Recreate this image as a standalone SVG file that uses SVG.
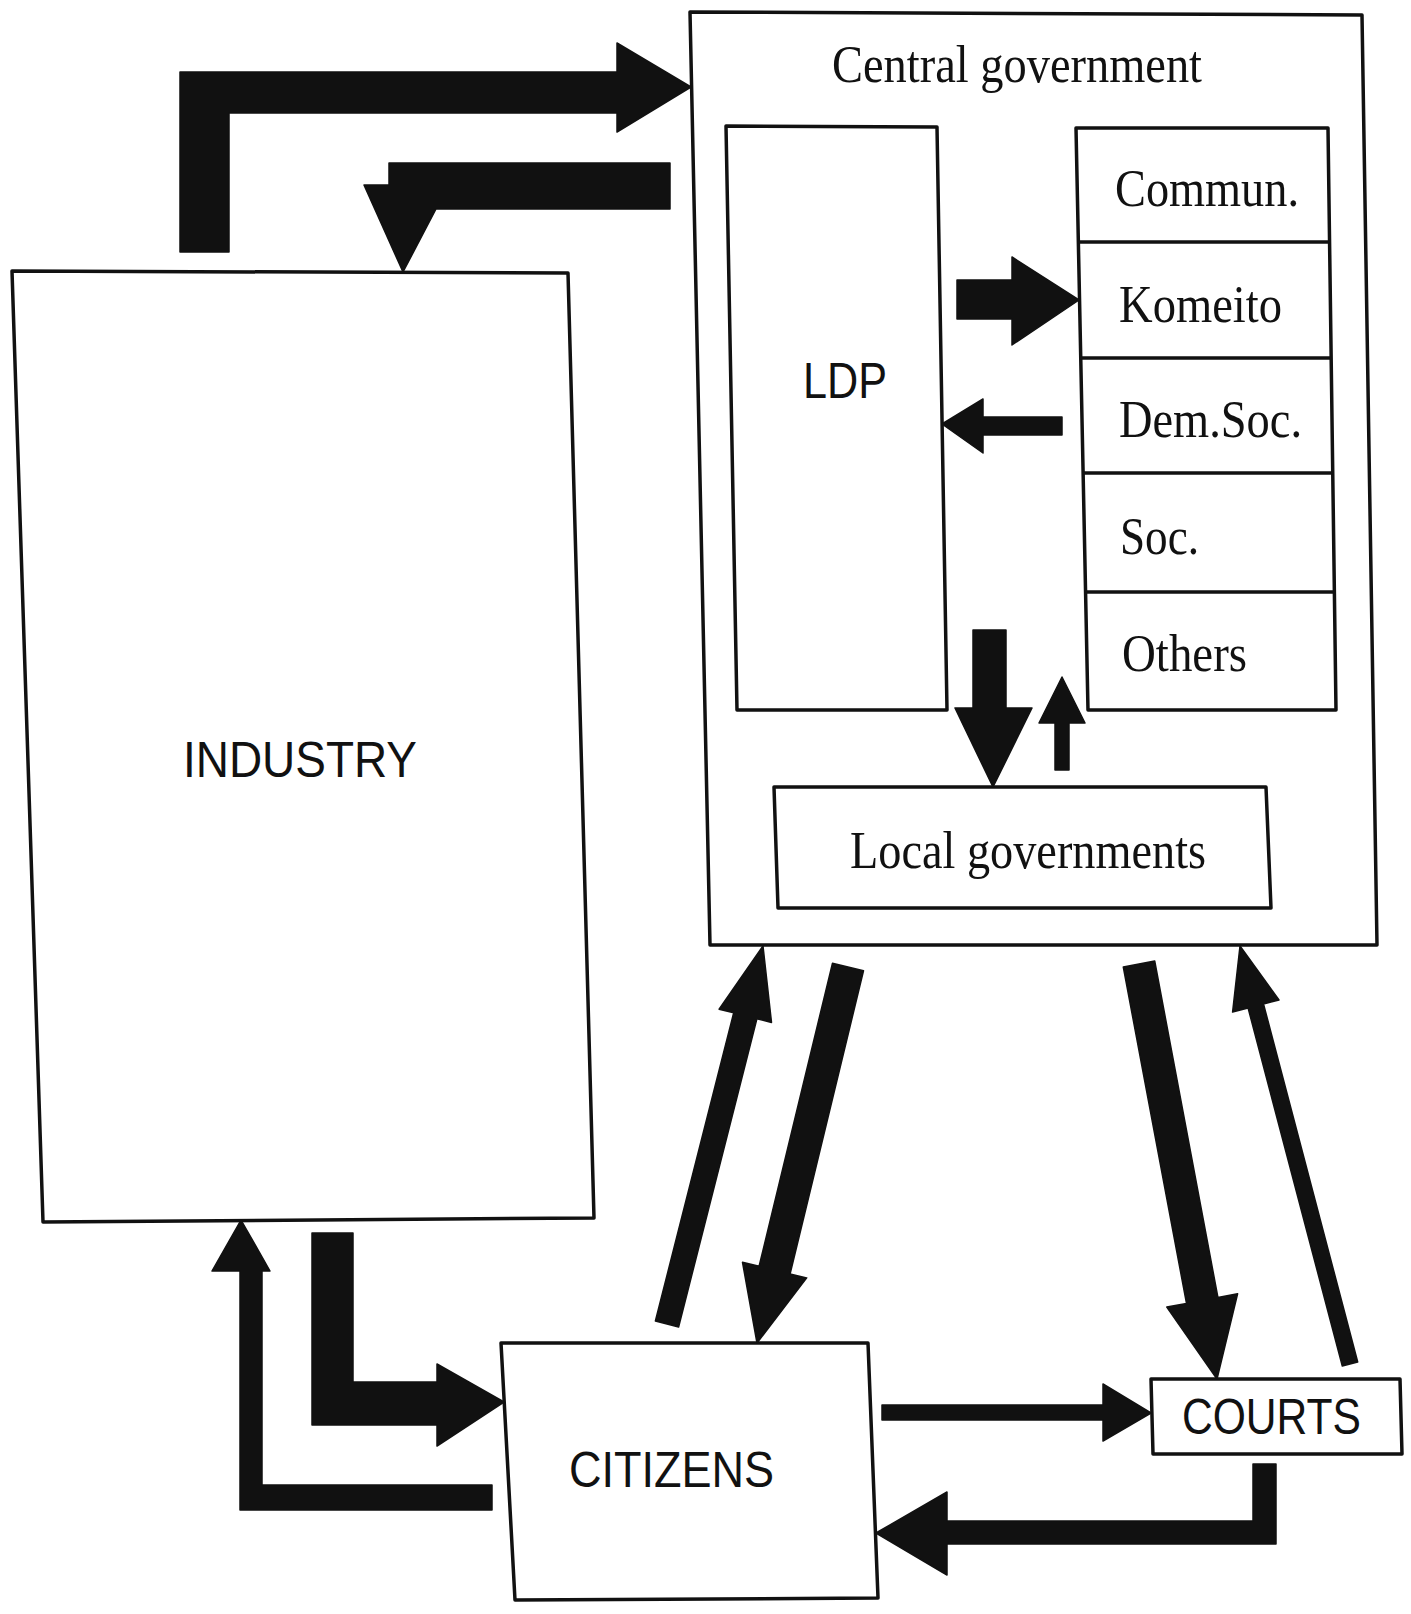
<svg xmlns="http://www.w3.org/2000/svg" width="1411" height="1614" viewBox="0 0 1411 1614">
<style>
.box{fill:#fff;stroke:#111;stroke-width:3.5;stroke-linejoin:round}
.div{stroke:#111;stroke-width:3.5}
.arr{fill:#111;stroke:#111;stroke-width:1.5;stroke-linejoin:round}
.serif{font-family:"Liberation Serif","Times New Roman",serif;font-size:52px;fill:#111}
.sans{font-family:"Liberation Sans",Arial,sans-serif;font-size:50px;fill:#111}
</style>
<rect width="1411" height="1614" fill="#fff"/>
<g id="industry">
<polygon class="box" points="12,271 568,273 594,1218 43,1222"/>
<text class="sans" x="183" y="777" textLength="234" lengthAdjust="spacingAndGlyphs">INDUSTRY</text>
</g>
<g id="central-government">
<polygon class="box" points="690,12 1362,15 1377,945 710,945"/>
<text class="serif" x="832" y="82" textLength="370" lengthAdjust="spacingAndGlyphs">Central government</text>
</g>
<g id="ldp">
<polygon class="box" points="726,126 937,127 947,710 737,710"/>
<text class="sans" x="803" y="398" textLength="84" lengthAdjust="spacingAndGlyphs">LDP</text>
</g>
<g id="parties">
<polygon class="box" points="1076,128 1328,128 1336,710 1088,710"/>
<line class="div" x1="1078" y1="242" x2="1330" y2="242"/>
<line class="div" x1="1081" y1="358" x2="1331" y2="358"/>
<line class="div" x1="1083" y1="473" x2="1333" y2="473"/>
<line class="div" x1="1086" y1="592" x2="1334" y2="592"/>
</g>
<g id="commun"><text class="serif" x="1115" y="206" textLength="184" lengthAdjust="spacingAndGlyphs">Commun.</text></g>
<g id="komeito"><text class="serif" x="1119" y="322" textLength="163" lengthAdjust="spacingAndGlyphs">Komeito</text></g>
<g id="demsoc"><text class="serif" x="1119" y="437" textLength="183" lengthAdjust="spacingAndGlyphs">Dem.Soc.</text></g>
<g id="soc"><text class="serif" x="1120" y="554" textLength="79" lengthAdjust="spacingAndGlyphs">Soc.</text></g>
<g id="others"><text class="serif" x="1122" y="671" textLength="125" lengthAdjust="spacingAndGlyphs">Others</text></g>
<g id="local-governments">
<polygon class="box" points="774,787 1266,787 1271,908 778,908"/>
<text class="serif" x="850" y="868" textLength="356" lengthAdjust="spacingAndGlyphs">Local governments</text>
</g>
<g id="citizens">
<polygon class="box" points="501,1343 868,1343 878,1598 515,1600"/>
<text class="sans" x="569" y="1487" textLength="205" lengthAdjust="spacingAndGlyphs">CITIZENS</text>
</g>
<g id="courts">
<polygon class="box" points="1151,1379 1400,1379 1402,1454 1153,1454"/>
<text class="sans" x="1182" y="1434" textLength="179" lengthAdjust="spacingAndGlyphs">COURTS</text>
</g>
<g id="connectors">
<polygon class="arr" points="180,72 617,72 617,43 691,87 617,132 617,113 229,113 229,252 180,252"/>
<polygon class="arr" points="670,163 389,163 389,185 364,185 403,272 436,209 670,209"/>
<polygon class="arr" points="957,280 1012,280 1012,257 1079,300 1012,345 1012,319 957,319"/>
<polygon class="arr" points="1062,417 983,417 983,399 942,424 983,453 983,435 1062,435"/>
<polygon class="arr" points="973,630 1006,630 1006,708 1032,708 993,787 955,708 973,708"/>
<polygon class="arr" points="1055,770 1055,723 1039,723 1062,677 1085,723 1069,723 1069,770"/>
<polygon class="arr" points="678.6,1327 756.9,1018.8 771.5,1022.4 763,946 719.1,1009.2 733.7,1012.8 655.4,1321"/>
<polygon class="arr" points="832.5,963.2 759.1,1266.3 742.5,1262.3 757,1343 806.7,1277.9 790.1,1273.9 863.5,970.8"/>
<polygon class="arr" points="1123.3,967 1186.5,1303.4 1166.8,1307 1217,1379 1237.6,1293.8 1217.9,1297.4 1154.7,961"/>
<polygon class="arr" points="1357.7,1362 1263.5,1004 1279,999.9 1240,946 1232.6,1012.1 1248.1,1008 1342.3,1366"/>
<polygon class="arr" points="312,1233 353,1233 353,1382 437,1382 437,1364 504,1402 437,1446 437,1425 312,1425"/>
<polygon class="arr" points="492,1485 262,1485 262,1271 270,1271 241,1220 212,1271 240,1271 240,1510 492,1510"/>
<polygon class="arr" points="882,1405 1103,1405 1103,1384 1151,1413 1103,1441 1103,1420 882,1420"/>
<polygon class="arr" points="1276,1464 1276,1544 947,1544 947,1575 876,1533 947,1492 947,1521 1253,1521 1253,1464"/>
</g>
</svg>
